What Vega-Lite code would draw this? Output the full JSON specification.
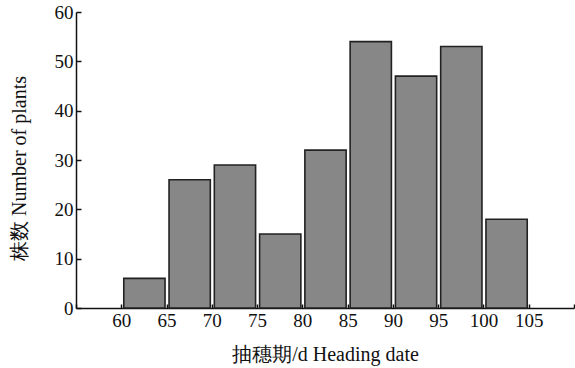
{
  "$schema": "https://vega.github.io/schema/vega-lite/v6.json",
  "width": 498,
  "height": 296,
  "autosize": "none",
  "padding": {"left": 76, "top": 12, "right": 1, "bottom": 60},
  "background": "white",
  "config": {
    "view": {"stroke": null},
    "font": "Liberation Serif",
    "axis": {
      "labelFont": "Liberation Serif",
      "titleFont": "Liberation Serif",
      "labelColor": "#111",
      "titleColor": "#111",
      "domainColor": "#111",
      "tickColor": "#111",
      "grid": false,
      "titleFontWeight": "normal"
    }
  },
  "data": {
    "values": [
      {"start": 60, "end": 65, "count": 6},
      {"start": 65, "end": 70, "count": 26},
      {"start": 70, "end": 75, "count": 29},
      {"start": 75, "end": 80, "count": 15},
      {"start": 80, "end": 85, "count": 32},
      {"start": 85, "end": 90, "count": 54},
      {"start": 90, "end": 95, "count": 47},
      {"start": 95, "end": 100, "count": 53},
      {"start": 100, "end": 105, "count": 18}
    ]
  },
  "mark": {"type": "bar", "fill": "#878787", "stroke": "#222", "strokeWidth": 1.6, "binSpacing": 4},
  "encoding": {
    "x": {
      "field": "start",
      "type": "quantitative",
      "bin": "binned",
      "scale": {"domain": [55, 110], "nice": false, "zero": false},
      "axis": {
        "values": [55, 60, 65, 70, 75, 80, 85, 90, 95, 100, 105, 110],
        "labelExpr": "datum.value == 55 || datum.value == 110 ? '' : datum.label",
        "tickSize": -4,
        "tickWidth": 1.5,
        "domainWidth": 1.5,
        "labelFontSize": 19,
        "labelPadding": 7,
        "labelFlush": false,
        "labelOverlap": false,
        "title": "抽穗期/d  Heading date",
        "titleFontSize": 20,
        "titleBaseline": "middle",
        "titleY": 46
      }
    },
    "x2": {"field": "end"},
    "y": {
      "field": "count",
      "type": "quantitative",
      "scale": {"domain": [0, 60], "nice": false},
      "axis": {
        "values": [0, 10, 20, 30, 40, 50, 60],
        "tickSize": -5,
        "tickWidth": 1.5,
        "domainWidth": 1.5,
        "labelFontSize": 19,
        "labelPadding": 8,
        "labelFlush": false,
        "labelOverlap": false,
        "title": "株数 Number of plants",
        "titleFontSize": 20,
        "titleAngle": -90,
        "titleBaseline": "middle",
        "titleAlign": "center",
        "titleX": -57,
        "titleY": 156
      }
    }
  }
}
